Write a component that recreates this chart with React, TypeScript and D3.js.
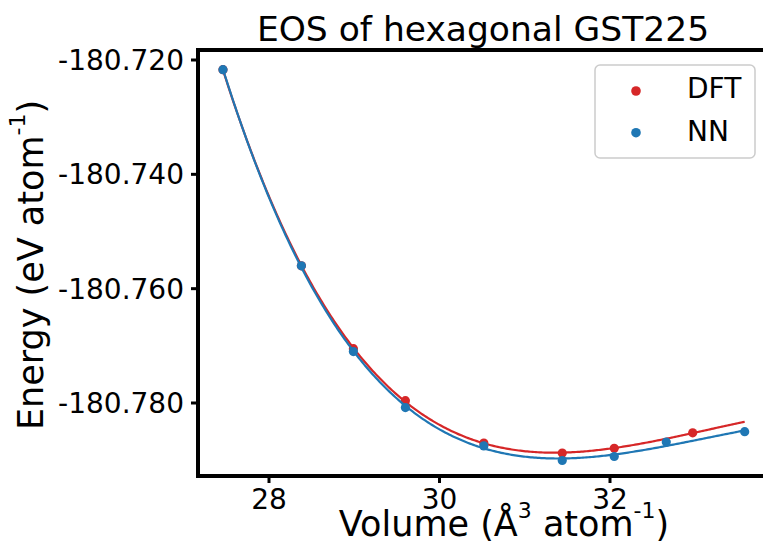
import React from "react";
import * as d3 from "d3";

const dftVolume = [27.46, 28.38, 28.99, 29.6, 30.52, 31.44, 32.05, 32.97];
const dftEnergy = [-180.7217, -180.756, -180.7705, -180.7796, -180.787, -180.78875, -180.78793, -180.78522];
const nnVolume = [27.46, 28.38, 28.99, 29.6, 30.52, 31.44, 32.05, 32.66, 33.58];
const nnEnergy = [-180.7217, -180.756, -180.771, -180.7808, -180.7875, -180.79006, -180.78936, -180.78683, -180.78502];
const xTicks = [28, 30, 32];
const yTicks = [-180.72, -180.74, -180.76, -180.78];
const seriesNames = ["DFT", "NN"];
const title = "EOS of hexagonal GST225";

const RED = "#d62728";
const BLUE = "#1f77b4";

// Birch–Murnaghan style fit: E = a + b t + c t^2 + d t^3, t = V^(-2/3)
function fitEOS(V: number[], E: number[]) {
  const t = V.map((v) => Math.pow(v, -2 / 3));
  const tm = d3.mean(t)!;
  const ts = d3.deviation(t)!;
  const em = d3.mean(E)!;
  const s = t.map((x) => (x - tm) / ts);
  const n = 4;
  const A: number[][] = Array.from({ length: n }, () => new Array(n + 1).fill(0));
  for (let k = 0; k < s.length; k++) {
    const row = [1, s[k], s[k] ** 2, s[k] ** 3];
    for (let i = 0; i < n; i++) {
      for (let j = 0; j < n; j++) A[i][j] += row[i] * row[j];
      A[i][n] += row[i] * (E[k] - em);
    }
  }
  for (let i = 0; i < n; i++) {
    let p = i;
    for (let r = i + 1; r < n; r++) if (Math.abs(A[r][i]) > Math.abs(A[p][i])) p = r;
    [A[i], A[p]] = [A[p], A[i]];
    for (let r = 0; r < n; r++) {
      if (r === i) continue;
      const f = A[r][i] / A[i][i];
      for (let c = i; c <= n; c++) A[r][c] -= f * A[i][c];
    }
  }
  const coef = A.map((row, i) => row[n] / row[i]);
  return (v: number) => {
    const x = (Math.pow(v, -2 / 3) - tm) / ts;
    return em + coef[0] + coef[1] * x + coef[2] * x * x + coef[3] * x * x * x;
  };
}

export default function App() {
  const W = 763;
  const H = 551;
  const left = 198, right = 768, top = 50, bottom = 476;
  const x = d3.scaleLinear().domain([28 - 71 / 85.25, 28 + 499 / 85.25]).range([left, right]);
  const y = d3.scaleLinear().domain([-180.72 + 10 / 5716.7, -180.78 - 73 / 5716.7]).range([top, bottom]);

  const allV = [...dftVolume, ...nnVolume];
  const vmin = d3.min(allV)!, vmax = d3.max(allV)!;
  const grid = d3.range(0, 301).map((i) => vmin + ((vmax - vmin) * i) / 300);
  const fD = fitEOS(dftVolume, dftEnergy);
  const fN = fitEOS(nnVolume, nnEnergy);
  const line = d3.line<number[]>().x((d) => x(d[0])).y((d) => y(d[1]));
  const dPath = line(grid.map((v) => [v, fD(v)]))!;
  const nPath = line(grid.map((v) => [v, fN(v)]))!;
  const fmt = (v: number) => d3.format(".3f")(v).replace("\u2212", "-");
  const font = "DejaVu Sans, sans-serif";

  return (
    <svg width={W} height={H} style={{ position: "absolute", left: 0, top: 0, background: "white" }} fontFamily={font}>
      <defs>
        <clipPath id="plotclip">
          <rect x={left} y={top} width={right - left} height={bottom - top} />
        </clipPath>
      </defs>
      <rect x={0} y={0} width={W} height={H} fill="white" />
      <g clipPath="url(#plotclip)">
        <path d={dPath} fill="none" stroke={RED} strokeWidth={2.2} />
        {dftVolume.map((v, i) => (
          <circle key={"d" + i} cx={x(v)} cy={y(dftEnergy[i])} r={4.6} fill={RED} />
        ))}
        <path d={nPath} fill="none" stroke={BLUE} strokeWidth={2.2} />
        {nnVolume.map((v, i) => (
          <circle key={"n" + i} cx={x(v)} cy={y(nnEnergy[i])} r={4.6} fill={BLUE} />
        ))}
      </g>
      {/* spines */}
      <rect x={left} y={top} width={right - left} height={bottom - top} fill="none" stroke="black" strokeWidth={4} />
      {/* x ticks */}
      {xTicks.map((t) => (
        <g key={"xt" + t}>
          <line x1={x(t)} x2={x(t)} y1={bottom + 2} y2={bottom + 7} stroke="black" strokeWidth={3} />
          <text x={x(t)} y={509} textAnchor="middle" fontSize={28} fill="black">{t}</text>
        </g>
      ))}
      {yTicks.map((t) => (
        <g key={"yt" + t}>
          <line x1={left - 2} x2={left - 7} y1={y(t)} y2={y(t)} stroke="black" strokeWidth={3} />
          <text x={184} y={y(t) + 10} textAnchor="end" fontSize={28} fill="black">{fmt(t)}</text>
        </g>
      ))}
      {/* title */}
      <text x={483} y={41} textAnchor="middle" fontSize={34.5} fill="black">{title}</text>
      {/* x label */}
      <text x={504} y={536} textAnchor="middle" fontSize={35} fill="black">
        Volume (Å<tspan dy={-18} fontSize={22}>3</tspan><tspan dy={18}> atom</tspan><tspan dy={-18} fontSize={22}>-1</tspan><tspan dy={18}>)</tspan>
      </text>
      {/* y label */}
      <text transform="translate(43,265) rotate(-90)" textAnchor="middle" fontSize={35} fill="black">
        Energy (eV atom<tspan dy={-18} fontSize={22}>-1</tspan><tspan dy={18}>)</tspan>
      </text>
      {/* legend */}
      <rect x={595} y={65} width={160} height={93} rx={5} fill="white" fillOpacity={0.8} stroke="#cccccc" strokeWidth={1.5} />
      {seriesNames.map((name, i) => (
        <g key={name}>
          <circle cx={636} cy={91 + i * 41.7} r={4.8} fill={i === 0 ? RED : BLUE} />
          <text x={687} y={98.3 + i * 42.4} fontSize={28} fill="black">{name}</text>
        </g>
      ))}
    </svg>
  );
}
